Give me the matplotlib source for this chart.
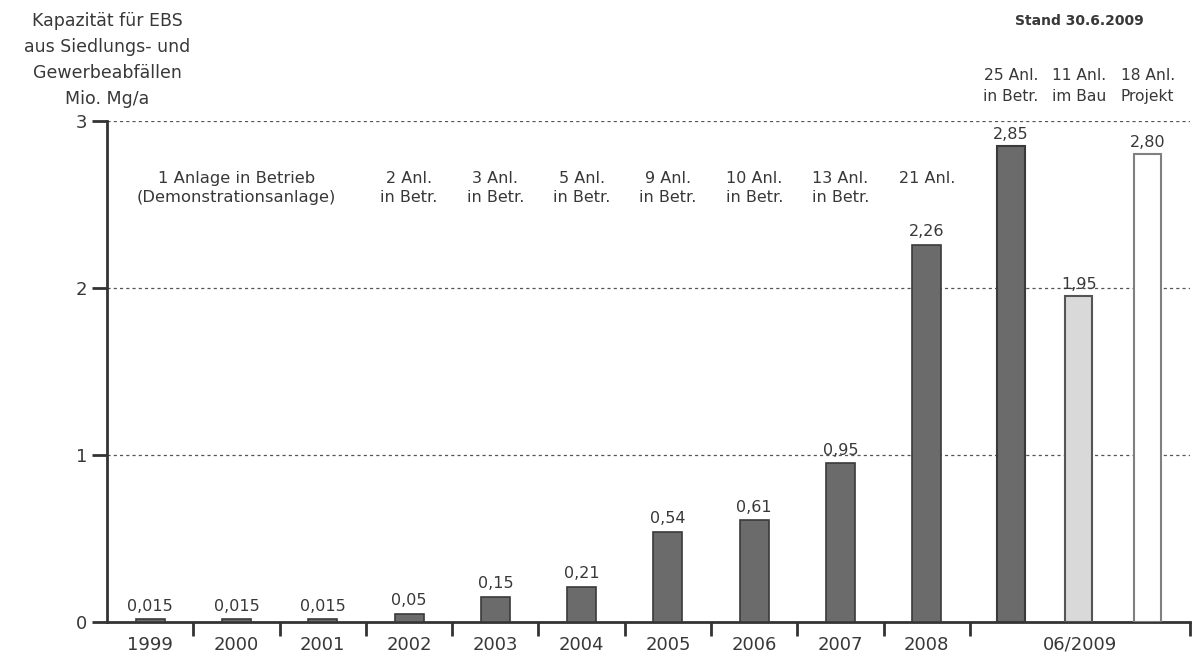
import matplotlib
matplotlib.use("Agg")
import matplotlib.pyplot as plt
from matplotlib.ticker import FixedLocator, NullFormatter

plt.rcParams['font.family'] = ['DejaVu Sans']

years = ["1999", "2000", "2001", "2002", "2003", "2004", "2005", "2006", "2007", "2008"]
year_values = [0.015, 0.015, 0.015, 0.05, 0.15, 0.21, 0.54, 0.61, 0.95, 2.26]
year_labels = ["0,015", "0,015", "0,015", "0,05", "0,15", "0,21", "0,54", "0,61", "0,95", "2,26"]
year_notes = ["", "", "", "2 Anl.\nin Betr.", "3 Anl.\nin Betr.", "5 Anl.\nin Betr.",
              "9 Anl.\nin Betr.", "10 Anl.\nin Betr.", "13 Anl.\nin Betr.", "21 Anl.\n"]
first_note = "1 Anlage in Betrieb\n(Demonstrationsanlage)"

last_category = "06/2009"
last_values = [2.85, 1.95, 2.80]
last_labels = ["2,85", "1,95", "2,80"]
last_notes = ["25 Anl.\nin Betr.", "11 Anl.\nim Bau", "18 Anl.\nProjekt"]

y_ticks = [0, 1, 2, 3]
ylabel = "Kapazität für EBS\naus Siedlungs- und\nGewerbeabfällen\nMio. Mg/a"
stand = "Stand 30.6.2009"

TXT = "#383838"
DARK = "#6b6b6b"
DARK_EDGE = "#3a3a3a"
LIGHT = "#d9d9d9"
LIGHT_EDGE = "#555555"
WHITE_EDGE = "#808080"

fig = plt.figure(figsize=(11.93, 6.61), dpi=100)
ax = fig.add_axes([107/1193, 39/661, (1190-107)/1193, (622-121)/661])

bw = 0.336
n = len(years)
xs = [i + 0.5 for i in range(n)]
ax.bar(xs, year_values, width=bw, color=DARK, edgecolor=DARK_EDGE, linewidth=1.2, zorder=3)
for x, v, lab in zip(xs, year_values, year_labels):
    ax.annotate(lab, (x, v), xytext=(0, 4), textcoords="offset points",
                ha="center", va="bottom", fontsize=11.5, color=TXT, zorder=5)
for x, note in zip(xs, year_notes):
    if note:
        ax.text(x, 2.60, note, ha="center", va="center", fontsize=11.5,
                color=TXT, linespacing=1.35)
ax.text(1.5, 2.60, first_note, ha="center", va="center", fontsize=11.8,
        color=TXT, linespacing=1.35)

end = 12.55
lx = [10.475, 11.26, 12.06]
colors = [DARK, LIGHT, "white"]
edges = [DARK_EDGE, LIGHT_EDGE, WHITE_EDGE]
ax.bar(lx, last_values, width=bw - 0.02, color=colors, edgecolor=edges, linewidth=1.5, zorder=3)
for x, v, lab in zip(lx, last_values, last_labels):
    ax.annotate(lab, (x, v), xytext=(0, 3), textcoords="offset points",
                ha="center", va="bottom", fontsize=11.5, color=TXT, zorder=5)
for x, note in zip(lx, last_notes):
    ax.text(x, 3.21, note, ha="center", va="center", fontsize=11.2,
            color=TXT, linespacing=1.55, clip_on=False)

ax.text(11.27, 3.60, stand, ha="center", va="center", fontsize=10,
        fontweight="bold", color=TXT, clip_on=False)

ax.set_xlim(0, end)
ax.set_ylim(0, 3)

for s in ["top", "right"]:
    ax.spines[s].set_visible(False)
for s in ["left", "bottom"]:
    ax.spines[s].set_linewidth(2)
    ax.spines[s].set_color("#333333")

ax.set_yticks(y_ticks)
ax.set_yticklabels([str(t) for t in y_ticks], fontsize=13, color=TXT)
ax.tick_params(axis="y", length=11, width=2, color="#333333", pad=3)

boundaries = list(range(1, n + 1)) + [end]
ax.xaxis.set_major_locator(FixedLocator(boundaries))
ax.xaxis.set_major_formatter(NullFormatter())
ax.tick_params(axis="x", which="major", length=10, width=2, color="#333333")
centers = xs + [(n + end) / 2]
ax.xaxis.set_minor_locator(FixedLocator(centers))
ax.set_xticklabels(years + [last_category], minor=True, fontsize=13, color=TXT)
ax.tick_params(axis="x", which="minor", length=0, pad=10)

for y in y_ticks[1:]:
    ax.axhline(y, color="#555555", linestyle=(0, (2.5, 2.5)), linewidth=0.9, zorder=1)

fig.text(107/1193, 1 - 60/661, ylabel, ha="center", va="center", fontsize=12.5,
         color=TXT, linespacing=1.55)

fig.savefig("out.png", dpi=100, facecolor="white")
